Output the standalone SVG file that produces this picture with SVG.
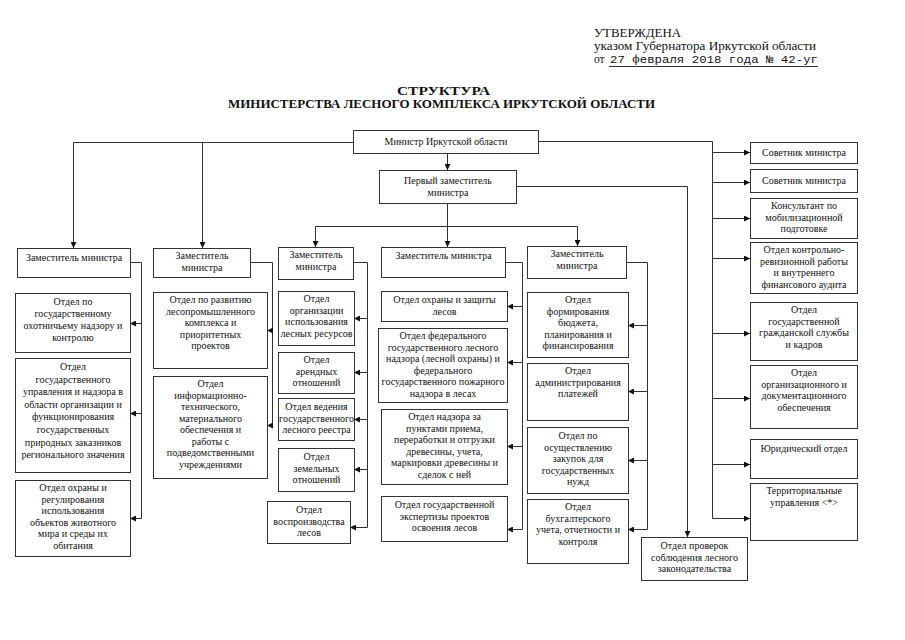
<svg xmlns="http://www.w3.org/2000/svg" width="905" height="640" viewBox="0 0 905 640">
<style>
.b{fill:#fff;stroke:#333;stroke-width:1}
.t{font-family:"Liberation Serif","DejaVu Serif",serif;font-size:10px;fill:#111;text-anchor:middle}
.h{font-family:"Liberation Serif","DejaVu Serif",serif;font-size:11.5px;fill:#111}
.m{font-family:"Liberation Mono","DejaVu Sans Mono",monospace;font-size:11.5px;fill:#111}
.ti{font-family:"Liberation Serif","DejaVu Serif",serif;font-size:12px;font-weight:bold;fill:#111;text-anchor:middle}
.c{fill:none;stroke:#333;stroke-width:1}
.a{fill:none;stroke:#333;stroke-width:1;marker-end:url(#ar)}
</style>
<defs>
<marker id="ar" markerUnits="userSpaceOnUse" markerWidth="6" markerHeight="6" refX="6" refY="3" orient="auto">
<path d="M0,0 L6,3 L0,6 z" fill="#111"/>
</marker>
</defs>
<rect width="905" height="640" fill="#fff"/>
<g id="header">
<text class="h" x="594" y="37" textLength="87" lengthAdjust="spacingAndGlyphs">УТВЕРЖДЕНА</text>
<text class="h" x="594" y="50" textLength="222" lengthAdjust="spacingAndGlyphs">указом Губернатора Иркутской области</text>
<text class="h" x="594" y="63">от</text>
<text class="m" x="610" y="63" textLength="208" lengthAdjust="spacingAndGlyphs">27 февраля 2018 года № 42-уг</text>
<line x1="609" y1="66.5" x2="818" y2="66.5" stroke="#333" stroke-width="1"/>
<text class="ti" x="443.5" y="95" textLength="93" lengthAdjust="spacingAndGlyphs">СТРУКТУРА</text>
<text class="ti" x="441.5" y="108" textLength="427" lengthAdjust="spacingAndGlyphs">МИНИСТЕРСТВА ЛЕСНОГО КОМПЛЕКСА ИРКУТСКОЙ ОБЛАСТИ</text>
</g>
<g id="connectors">
<path class="c" d="M353,142.5 H73.5"/>
<path class="a" d="M73.5,142.5 V248"/>
<path class="a" d="M202.5,142.5 V248"/>
<path class="a" d="M447.5,153 V170"/>
<path class="a" d="M447.5,203 V247"/>
<path class="c" d="M315.5,226.5 H577.5"/>
<path class="a" d="M315.5,226.5 V247"/>
<path class="a" d="M577.5,226.5 V246"/>
<path class="c" d="M516,186.5 H687.5"/>
<path class="a" d="M687.5,186.5 V537"/>
<path class="c" d="M539,141.5 H712.5 V518.5"/>
<path class="a" d="M712.5,152.5 H750"/>
<path class="a" d="M712.5,182.5 H750"/>
<path class="a" d="M712.5,218.5 H750"/>
<path class="a" d="M712.5,258.5 H750"/>
<path class="a" d="M712.5,333.5 H750"/>
<path class="a" d="M712.5,398.5 H750"/>
<path class="a" d="M712.5,464.5 H750"/>
<path class="a" d="M712.5,518.5 H750"/>
<path class="c" d="M130,262.5 H141.5 V518.5"/>
<path class="a" d="M141.5,323.5 H130"/>
<path class="a" d="M141.5,413.5 H130"/>
<path class="a" d="M141.5,518.5 H130"/>
<path class="c" d="M250,262.5 H272.5 V425.5"/>
<path class="a" d="M272.5,330.5 H267"/>
<path class="a" d="M272.5,425.5 H267"/>
<path class="c" d="M353,262.5 H367.5 V527.5"/>
<path class="a" d="M367.5,318.5 H354"/>
<path class="a" d="M367.5,372.5 H354"/>
<path class="a" d="M367.5,419.5 H354"/>
<path class="a" d="M367.5,469.5 H354"/>
<path class="a" d="M367.5,527.5 H350"/>
<path class="c" d="M505,262.5 H522.5 V529.5"/>
<path class="a" d="M522.5,306.5 H507"/>
<path class="a" d="M522.5,362.5 H507"/>
<path class="a" d="M522.5,446.5 H507"/>
<path class="a" d="M522.5,529.5 H507"/>
<path class="c" d="M626,262.5 H647.5 V529.5"/>
<path class="a" d="M647.5,325.5 H628"/>
<path class="a" d="M647.5,391.5 H628"/>
<path class="a" d="M647.5,460.5 H628"/>
<path class="a" d="M647.5,529.5 H628"/>
</g>
<g id="minister"><rect class="b" x="353.5" y="130.5" width="185" height="23"/><text class="t" x="446" y="145">Министр Иркутской области</text></g>
<g id="first-deputy"><rect class="b" x="379.5" y="170.5" width="137" height="33"/><text class="t" x="448" y="184">Первый заместитель</text><text class="t" x="448" y="196">министра</text></g>

<g id="dep1"><rect class="b" x="17.5" y="248.5" width="113" height="29"/><text class="t" x="74" y="261">Заместитель министра</text></g>
<g id="c1b1"><rect class="b" x="15.5" y="293.5" width="115" height="59"/><text class="t" x="73" y="305">Отдел по</text><text class="t" x="73" y="317">государственному</text><text class="t" x="73" y="329">охотничьему надзору и</text><text class="t" x="73" y="341">контролю</text></g>
<g id="c1b2"><rect class="b" x="15.5" y="358.5" width="115" height="114"/><text class="t" x="73" y="370">Отдел</text><text class="t" x="73" y="382.6">государственного</text><text class="t" x="73" y="395.2">управления и надзора в</text><text class="t" x="73" y="407.8">области организации и</text><text class="t" x="73" y="420.4">функционирования</text><text class="t" x="73" y="433">государственных</text><text class="t" x="73" y="445.6">природных заказников</text><text class="t" x="73" y="458.2">регионального значения</text></g>
<g id="c1b3"><rect class="b" x="15.5" y="480.5" width="115" height="76"/><text class="t" x="73" y="491">Отдел охраны и</text><text class="t" x="73" y="502.5">регулирования</text><text class="t" x="73" y="514">использования</text><text class="t" x="73" y="525.5">объектов животного</text><text class="t" x="73" y="537">мира и среды их</text><text class="t" x="73" y="548.5">обитания</text></g>

<g id="dep2"><rect class="b" x="153.5" y="248.5" width="97" height="29"/><text class="t" x="202" y="259">Заместитель</text><text class="t" x="202" y="271">министра</text></g>
<g id="c2b1"><rect class="b" x="153.5" y="292.5" width="114" height="76"/><text class="t" x="210.5" y="303">Отдел по развитию</text><text class="t" x="210.5" y="314.5">лесопромышленного</text><text class="t" x="210.5" y="326">комплекса и</text><text class="t" x="210.5" y="337.5">приоритетных</text><text class="t" x="210.5" y="349">проектов</text></g>
<g id="c2b2"><rect class="b" x="153.5" y="376.5" width="114" height="102"/><text class="t" x="210.5" y="387">Отдел</text><text class="t" x="210.5" y="398.5">информационно-</text><text class="t" x="210.5" y="410">технического,</text><text class="t" x="210.5" y="421.5">материального</text><text class="t" x="210.5" y="433">обеспечения и</text><text class="t" x="210.5" y="444.5">работы с</text><text class="t" x="210.5" y="456">подведомственными</text><text class="t" x="210.5" y="467.5">учреждениями</text></g>

<g id="dep3"><rect class="b" x="278.5" y="247.5" width="75" height="32"/><text class="t" x="316" y="258">Заместитель</text><text class="t" x="316" y="270">министра</text></g>
<g id="c3b1"><rect class="b" x="278.5" y="291.5" width="76" height="54"/><text class="t" x="316.5" y="302">Отдел</text><text class="t" x="316.5" y="313.5">организации</text><text class="t" x="316.5" y="325">использования</text><text class="t" x="316.5" y="336.5">лесных ресурсов</text></g>
<g id="c3b2"><rect class="b" x="278.5" y="352.5" width="76" height="41"/><text class="t" x="316.5" y="363">Отдел</text><text class="t" x="316.5" y="374.5">арендных</text><text class="t" x="316.5" y="386">отношений</text></g>
<g id="c3b3"><rect class="b" x="278.5" y="398.5" width="76" height="42"/><text class="t" x="316.5" y="410">Отдел ведения</text><text class="t" x="316.5" y="421.5">государственного</text><text class="t" x="316.5" y="433">лесного реестра</text></g>
<g id="c3b4"><rect class="b" x="278.5" y="448.5" width="76" height="43"/><text class="t" x="316.5" y="460">Отдел</text><text class="t" x="316.5" y="471.5">земельных</text><text class="t" x="316.5" y="483">отношений</text></g>
<g id="c3b5"><rect class="b" x="267.5" y="501.5" width="83" height="42"/><text class="t" x="309" y="513">Отдел</text><text class="t" x="309" y="524.5">воспроизводства</text><text class="t" x="309" y="536">лесов</text></g>

<g id="dep4"><rect class="b" x="381.5" y="247.5" width="124" height="30"/><text class="t" x="443.5" y="259">Заместитель министра</text></g>
<g id="c4b1"><rect class="b" x="381.5" y="291.5" width="126" height="30"/><text class="t" x="444.5" y="303">Отдел охраны и защиты</text><text class="t" x="444.5" y="315">лесов</text></g>
<g id="c4b2"><rect class="b" x="378.5" y="328.5" width="129" height="74"/><text class="t" x="443" y="339">Отдел федерального</text><text class="t" x="443" y="350.5">государственного лесного</text><text class="t" x="443" y="362">надзора (лесной охраны) и</text><text class="t" x="443" y="373.5">федерального</text><text class="t" x="443" y="385">государственного пожарного</text><text class="t" x="443" y="396.5">надзора в лесах</text></g>
<g id="c4b3"><rect class="b" x="381.5" y="409.5" width="126" height="75"/><text class="t" x="444.5" y="420">Отдел надзора за</text><text class="t" x="444.5" y="431.5">пунктами приема,</text><text class="t" x="444.5" y="443">переработки и отгрузки</text><text class="t" x="444.5" y="454.5">древесины, учета,</text><text class="t" x="444.5" y="466">маркировки древесины и</text><text class="t" x="444.5" y="477.5">сделок с ней</text></g>
<g id="c4b4"><rect class="b" x="381.5" y="496.5" width="126" height="45"/><text class="t" x="444.5" y="508">Отдел государственной</text><text class="t" x="444.5" y="519.5">экспертизы проектов</text><text class="t" x="444.5" y="531">освоения лесов</text></g>

<g id="dep5"><rect class="b" x="527.5" y="246.5" width="99" height="32"/><text class="t" x="577" y="257">Заместитель</text><text class="t" x="577" y="269">министра</text></g>
<g id="c5b1"><rect class="b" x="527.5" y="292.5" width="101" height="65"/><text class="t" x="578" y="303">Отдел</text><text class="t" x="578" y="314.5">формирования</text><text class="t" x="578" y="326">бюджета,</text><text class="t" x="578" y="337.5">планирования и</text><text class="t" x="578" y="349">финансирования</text></g>
<g id="c5b2"><rect class="b" x="527.5" y="363.5" width="101" height="57"/><text class="t" x="578" y="374">Отдел</text><text class="t" x="578" y="385.5">администрирования</text><text class="t" x="578" y="397">платежей</text></g>
<g id="c5b3"><rect class="b" x="527.5" y="427.5" width="101" height="66"/><text class="t" x="578" y="439">Отдел по</text><text class="t" x="578" y="450.5">осуществлению</text><text class="t" x="578" y="462">закупок для</text><text class="t" x="578" y="473.5">государственных</text><text class="t" x="578" y="485">нужд</text></g>
<g id="c5b4"><rect class="b" x="527.5" y="499.5" width="101" height="64"/><text class="t" x="578" y="510">Отдел</text><text class="t" x="578" y="521.5">бухгалтерского</text><text class="t" x="578" y="533">учета, отчетности и</text><text class="t" x="578" y="544.5">контроля</text></g>

<g id="checks"><rect class="b" x="641.5" y="537.5" width="106" height="43"/><text class="t" x="694.5" y="549">Отдел проверок</text><text class="t" x="694.5" y="560.5">соблюдения лесного</text><text class="t" x="694.5" y="572">законодательства</text></g>

<g id="r1"><rect class="b" x="750.5" y="142.5" width="107" height="21"/><text class="t" x="804" y="156">Советник министра</text></g>
<g id="r2"><rect class="b" x="750.5" y="169.5" width="107" height="23"/><text class="t" x="804" y="184">Советник министра</text></g>
<g id="r3"><rect class="b" x="750.5" y="198.5" width="107" height="40"/><text class="t" x="804" y="209">Консультант по</text><text class="t" x="804" y="220.5">мобилизационной</text><text class="t" x="804" y="232">подготовке</text></g>
<g id="r4"><rect class="b" x="750.5" y="242.5" width="107" height="51"/><text class="t" x="804" y="253">Отдел контрольно-</text><text class="t" x="804" y="264.5">ревизионной работы</text><text class="t" x="804" y="276">и внутреннего</text><text class="t" x="804" y="287.5">финансового аудита</text></g>
<g id="r5"><rect class="b" x="750.5" y="302.5" width="107" height="58"/><text class="t" x="804" y="313">Отдел</text><text class="t" x="804" y="324.5">государственной</text><text class="t" x="804" y="336">гражданской службы</text><text class="t" x="804" y="347.5">и кадров</text></g>
<g id="r6"><rect class="b" x="750.5" y="365.5" width="107" height="63"/><text class="t" x="804" y="376">Отдел</text><text class="t" x="804" y="387.5">организационного и</text><text class="t" x="804" y="399">документационного</text><text class="t" x="804" y="410.5">обеспечения</text></g>
<g id="r7"><rect class="b" x="750.5" y="439.5" width="107" height="39"/><text class="t" x="804" y="452">Юридический отдел</text></g>
<g id="r8"><rect class="b" x="750.5" y="483.5" width="107" height="57"/><text class="t" x="804" y="494">Территориальные</text><text class="t" x="804" y="505.5">управления &lt;*&gt;</text></g>
</svg>
